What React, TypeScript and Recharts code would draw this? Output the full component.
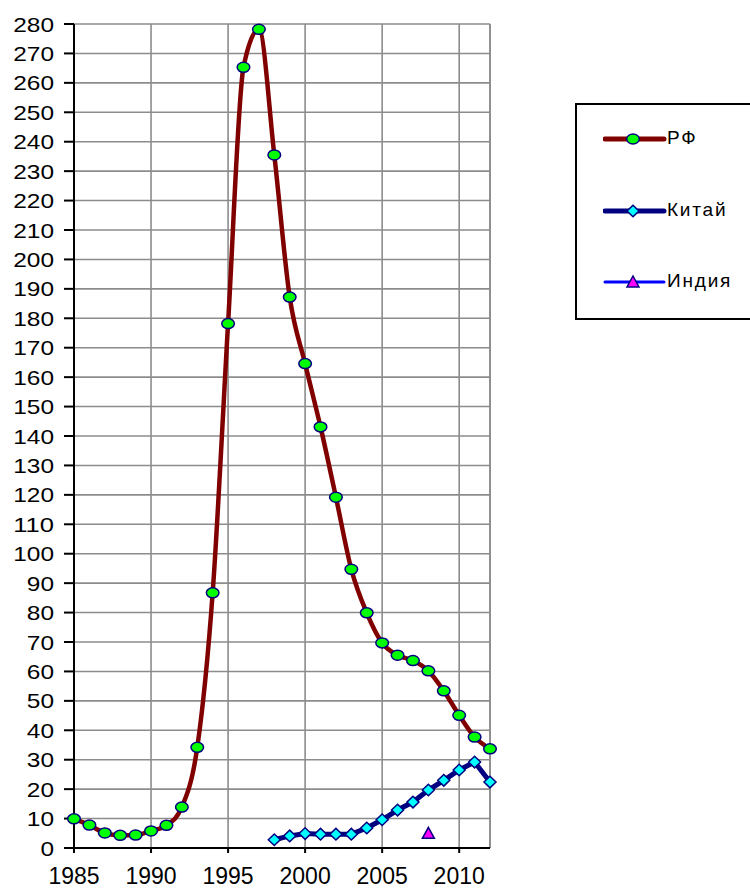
import React from "react";
import {
  LineChart,
  Line,
  XAxis,
  YAxis,
  CartesianGrid,
  ReferenceLine,
} from "recharts";

const years = [
  1985, 1986, 1987, 1988, 1989, 1990, 1991, 1992, 1993, 1994, 1995, 1996, 1997, 1998,
  1999, 2000, 2001, 2002, 2003, 2004, 2005, 2006, 2007, 2008, 2009, 2010, 2011, 2012,
];

const rf = [
  9.9, 7.8, 5.1, 4.3, 4.4, 5.8, 7.7, 13.9, 34.2, 86.7, 178.2, 265.3, 278.2, 235.5,
  187.2, 164.6, 143.1, 119.2, 94.7, 79.9, 69.7, 65.5, 63.7, 60.2, 53.4, 45.1, 37.7, 33.7,
];

// Китай начинается с 1998
const chinaYears = [1998, 1999, 2000, 2001, 2002, 2003, 2004, 2005, 2006, 2007, 2008, 2009, 2010, 2011, 2012];
const china = [2.8, 4.1, 4.9, 4.7, 4.7, 4.7, 6.8, 9.6, 12.9, 15.6, 19.7, 23.0, 26.5, 29.2, 22.4];

const indiaYears = [2008];
const india = [5.0];

const xTicks = [1985, 1990, 1995, 2000, 2005, 2010];
const yTicks = [
  0, 10, 20, 30, 40, 50, 60, 70, 80, 90, 100, 110, 120, 130, 140, 150, 160, 170, 180,
  190, 200, 210, 220, 230, 240, 250, 260, 270, 280,
];

const legendItems = [
  { name: "РФ", color: "#800000", width: 5, marker: "circle" },
  { name: "Китай", color: "#000080", width: 5, marker: "diamond" },
  { name: "Индия", color: "#0000FF", width: 3, marker: "triangle" },
];

const data = years.map((y, i) => {
  const ci = chinaYears.indexOf(y);
  const ii = indiaYears.indexOf(y);
  return {
    year: y,
    rf: rf[i],
    china: ci >= 0 ? china[ci] : null,
    india: ii >= 0 ? india[ii] : null,
  };
});

const NAVY = "#000080";
const FONT = "'Liberation Sans', Arial, sans-serif";

function Marker({ kind, cx, cy }: { kind: string; cx: number; cy: number }) {
  if (kind === "circle")
    return <ellipse cx={cx} cy={cy} rx={6.3} ry={5} fill="#00FF00" stroke={NAVY} strokeWidth={1.5} />;
  if (kind === "diamond")
    return (
      <polygon
        points={`${cx},${cy - 5.8} ${cx + 6},${cy} ${cx},${cy + 5.8} ${cx - 6},${cy}`}
        fill="#00FFFF"
        stroke={NAVY}
        strokeWidth={1.5}
      />
    );
  return (
    <polygon
      points={`${cx},${cy - 6} ${cx + 6},${cy + 5} ${cx - 6},${cy + 5}`}
      fill="#FF00FF"
      stroke={NAVY}
      strokeWidth={1.5}
    />
  );
}

const dotFor = (kind: string) => (p: any) => {
  if (p.cx == null || p.cy == null || p.value == null) return <g key={p.key} />;
  return (
    <g key={p.key}>
      <Marker kind={kind} cx={p.cx} cy={p.cy} />
    </g>
  );
};

// подписи оси Y в оригинале чуть растянуты по ширине
function YTick(props: any) {
  const { x, y, payload } = props;
  const s = String(payload.value);
  return (
    <text
      x={x}
      y={y}
      dy="0.36em"
      textAnchor="end"
      fontSize={21}
      fontFamily={FONT}
      fill="#000"
      textLength={s.length * 13.6}
      lengthAdjust="spacingAndGlyphs"
    >
      {s}
    </text>
  );
}

function Legend() {
  return (
    <div
      style={{
        position: "absolute",
        left: 575,
        top: 103,
        width: 185,
        height: 213,
        border: "2px solid #000",
        background: "#fff",
        fontFamily: FONT,
      }}
    >
      {legendItems.map((it, i) => (
        <div key={it.name} style={{ position: "absolute", left: 26, top: 22 + i * 71.5, height: 24 }}>
          <svg width={64} height={24} style={{ position: "absolute", left: 0, top: 0 }}>
            <line x1={2} y1={12} x2={61} y2={12} stroke={it.color} strokeWidth={it.width} strokeLinecap="round" />
            <Marker kind={it.marker} cx={30} cy={12} />
          </svg>
          <span
            style={{
              position: "absolute",
              left: 64,
              top: 0,
              fontSize: 19,
              letterSpacing: 1.8,
              whiteSpace: "nowrap",
              color: "#000",
            }}
          >
            {it.name}
          </span>
        </div>
      ))}
    </div>
  );
}

export default function App() {
  return (
    <div style={{ position: "absolute", left: 0, top: 0, width: 750, height: 890, background: "#fff" }}>
      <LineChart
        width={750}
        height={890}
        data={data}
        margin={{ top: 24, right: 260, bottom: 12, left: 0 }}
      >
        <CartesianGrid stroke="#8c8c8c" strokeWidth={1.6} />
        <ReferenceLine x={2012} stroke="#8c8c8c" strokeWidth={1.6} />
        <XAxis
          dataKey="year"
          type="number"
          domain={[1985, 2012]}
          ticks={xTicks}
          height={30}
          tickSize={5}
          tickMargin={15}
          axisLine={{ stroke: "#000", strokeWidth: 2 }}
          tickLine={{ stroke: "#000", strokeWidth: 2 }}
          tick={{ fill: "#000", fontSize: 23, fontFamily: FONT }}
        />
        <YAxis
          type="number"
          domain={[0, 280]}
          ticks={yTicks}
          interval={0}
          width={74}
          tickSize={10}
          tickMargin={10}
          axisLine={{ stroke: "#000", strokeWidth: 2 }}
          tickLine={{ stroke: "#000", strokeWidth: 2 }}
          tick={<YTick />}
        />
        <Line
          dataKey="rf"
          type="monotone"
          stroke="#800000"
          strokeWidth={4.5}
          dot={dotFor("circle")}
          activeDot={false}
          isAnimationActive={false}
        />
        <Line
          dataKey="china"
          type="linear"
          stroke={NAVY}
          strokeWidth={5}
          dot={dotFor("diamond")}
          activeDot={false}
          isAnimationActive={false}
        />
        <Line
          dataKey="india"
          type="linear"
          stroke="#0000FF"
          strokeWidth={3}
          dot={dotFor("triangle")}
          activeDot={false}
          isAnimationActive={false}
        />
      </LineChart>
      <Legend />
    </div>
  );
}
